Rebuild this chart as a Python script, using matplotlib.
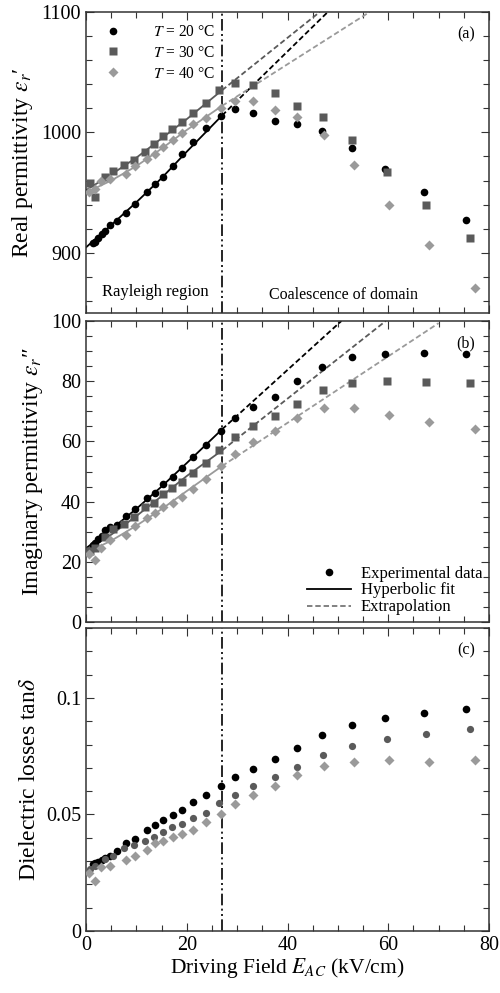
import matplotlib
matplotlib.use("Agg")
import matplotlib.pyplot as plt
from matplotlib.lines import Line2D
from matplotlib.ticker import MultipleLocator, FixedLocator

plt.rcParams['font.family'] = ['Liberation Serif', 'DejaVu Serif']
plt.rcParams['mathtext.fontset'] = 'stix'

# ---------------- data ----------------
E20 = [1.3, 1.8, 2.4, 3.1, 3.8, 4.8, 6.2, 7.9, 9.7, 12.2, 13.7, 15.3, 17.2, 19.1, 21.3, 23.8,
       26.7, 29.6, 33.2, 37.6, 41.9, 46.9, 52.9, 59.4, 67.1, 75.5]
E30 = [0.8, 1.8, 3.8, 5.4, 7.6, 9.6, 11.8, 13.5, 15.2, 17.1, 19.0, 21.3, 23.8, 26.5, 29.6,
       33.2, 37.6, 41.9, 47.1, 52.9, 59.8, 67.5, 76.2]
E40 = [0.5, 1.8, 3.0, 4.8, 7.9, 9.7, 12.2, 13.7, 15.3, 17.2, 19.1, 21.3, 23.8, 26.7, 29.6,
       33.2, 37.6, 41.9, 47.2, 53.2, 60.2, 68.1, 77.2]

real20 = [907.8, 908.6, 912.2, 915.6, 918.3, 923.3, 926.1, 933.1, 940.6, 950.8, 957.2, 963.3,
          971.7, 981.7, 991.9, 1003.9, 1013.9, 1019.4, 1016.1, 1009.4, 1006.7, 1001.1, 986.7,
          969.4, 950.6, 927.2]
real30 = [957.8, 946.1, 962.8, 967.8, 973.3, 977.2, 983.6, 990.6, 996.7, 1003.1, 1008.6,
          1016.1, 1024.4, 1035.0, 1041.1, 1039.2, 1033.1, 1022.2, 1012.8, 993.3, 967.5, 939.4,
          911.9]
real40 = [950.3, 953.1, 960.0, 961.4, 965.6, 972.5, 978.1, 982.2, 987.8, 993.3, 999.4, 1007.2,
          1012.2, 1020.6, 1026.1, 1026.1, 1018.3, 1012.8, 997.5, 973.1, 940.0, 906.4, 871.1]

imag20 = [25.5, 26.3, 27.5, 28.5, 30.5, 31.5, 32.2, 35.2, 37.4, 41.1, 43.0, 45.7, 48.3, 51.1,
          54.7, 58.8, 63.5, 67.9, 71.3, 74.6, 80.1, 84.8, 87.9, 89.0, 89.5, 89.0]
imag30 = [23.5, 24.5, 28.1, 30.8, 32.6, 35.0, 38.3, 39.6, 42.5, 44.4, 46.6, 49.4, 52.7, 57.1,
          61.4, 65.1, 68.6, 72.4, 77.1, 79.5, 80.0, 79.8, 79.3]
imag40 = [22.5, 20.6, 24.5, 27.2, 28.9, 31.9, 34.4, 36.3, 38.1, 39.6, 41.6, 44.1, 47.4, 51.8,
          55.8, 59.9, 63.6, 67.7, 71.0, 71.0, 68.9, 66.6, 64.0]

tan20 = [0.0288, 0.0292, 0.0298, 0.0305, 0.0312, 0.0323, 0.0345, 0.0376, 0.0395, 0.0434,
         0.0455, 0.0477, 0.0498, 0.0520, 0.0552, 0.0585, 0.0622, 0.0661, 0.0694, 0.0738,
         0.0787, 0.0842, 0.0885, 0.0915, 0.0937, 0.0954]
tan30 = [0.0265, 0.0280, 0.0309, 0.0323, 0.0356, 0.0371, 0.0388, 0.0405, 0.0424, 0.0445,
         0.0457, 0.0484, 0.0507, 0.0549, 0.0582, 0.0622, 0.0661, 0.0704, 0.0754, 0.0793,
         0.0823, 0.0845, 0.0866]
tan40 = [0.0250, 0.0216, 0.0273, 0.0280, 0.0305, 0.0323, 0.0348, 0.0376, 0.0388, 0.0402,
         0.0417, 0.0434, 0.0467, 0.0503, 0.0546, 0.0582, 0.0622, 0.0668, 0.0708, 0.0727,
         0.0733, 0.0727, 0.0733]

# hyperbolic fit (Rayleigh region) knots and extrapolation end points
fitE = [0, 5, 10, 15, 20, 27]
a_fit20 = [904.5, 923, 942, 962, 984, 1014]
a_fit30 = [952, 965, 979, 995, 1011, 1035]
a_fit40 = [950, 960, 972, 986.5, 1002, 1022]
a_ext20 = [48.0, 1100]
a_ext30 = [46.4, 1100]
a_ext40 = [56.3, 1100]
b_fit20 = [24.5, 30.8, 37.6, 45, 52.8, 64]
b_fit30 = [24, 29, 35.2, 41.8, 48.5, 57]
b_fit40 = [23, 27, 32, 37.5, 43.5, 51.8]
b_ext20 = [50.7, 100]
b_ext30 = [59.5, 100]
b_ext40 = [70.0, 99.3]

E_limit = 27.0
temps = ['20', '30', '40']

c20, c30, c40 = '#000000', '#5a5a5a', '#9a9a9a'
colors = [c20, c30, c40]

fig = plt.figure(figsize=(5.0, 9.93), dpi=100)
W, H = 500, 993
def axrect(top, bottom, left=86, right=489):
    return [left / W, 1 - bottom / H, (right - left) / W, (bottom - top) / H]

axA = fig.add_axes(axrect(12, 313))
axB = fig.add_axes(axrect(321, 622))
axC = fig.add_axes(axrect(628, 931))

fs_tick = 14.5
fs_ylab = 17
for ax in (axA, axB, axC):
    ax.set_xlim(0, 80)
    ax.xaxis.set_major_locator(MultipleLocator(20))
    ax.xaxis.set_minor_locator(MultipleLocator(5))
    ax.tick_params(which='both', direction='in', top=True, right=True, labelsize=fs_tick,
                   color='#333333')
    ax.tick_params(which='major', length=6, width=0.8)
    ax.tick_params(which='minor', length=4.5, width=0.8)
    for s in ax.spines.values():
        s.set_linewidth(1.1)
        s.set_color('#333333')
    ax.axvline(E_limit, color='black', lw=1.2, dashes=(7, 2, 1.2, 2, 1.2, 2), zorder=1)

axA.tick_params(labelbottom=False)
axB.tick_params(labelbottom=False)

ms = 5.5
mk = ['o', 's', 'D']
msz = [ms, ms - 0.3, ms - 0.6]

# ---- panel (a)
axA.set_ylim(850, 1100)
axA.yaxis.set_major_locator(MultipleLocator(100))
axA.yaxis.set_minor_locator(MultipleLocator(20))
for fit, ext, col in zip([a_fit20, a_fit30, a_fit40], [a_ext20, a_ext30, a_ext40], colors):
    axA.plot(fitE, fit, color=col, lw=1.3, zorder=2)
    axA.plot([fitE[-1], ext[0]], [fit[-1], ext[1]], color=col, lw=1.3, dashes=(3, 1.6), zorder=2)
legA = []
for E, v, col, m, s, t in zip([E20, E30, E40], [real20, real30, real40], colors, mk, msz, temps):
    h, = axA.plot(E, v, linestyle='none', marker=m, ms=s, color=col, mec='none', zorder=3,
                  label=r'$T$ = ' + t + ' °C')
    legA.append(h)
axA.legend(handles=legA, loc='upper left', bbox_to_anchor=(0.03, 0.975), frameon=False,
           fontsize=11.2, handlelength=1.3, handletextpad=1.9, borderaxespad=0.0,
           labelspacing=0.3, borderpad=0.3)
axA.set_ylabel("Real permittivity $\\varepsilon_r$\u2032", fontsize=fs_ylab, labelpad=4)
axA.text(0.171, 0.07, 'Rayleigh region', transform=axA.transAxes, ha='center', va='center',
         fontsize=12)
axA.text(0.639, 0.06, 'Coalescence of domain', transform=axA.transAxes, ha='center',
         va='center', fontsize=11.5)
axA.text(0.965, 0.925, '(a)', transform=axA.transAxes, ha='right', va='center', fontsize=11.5)

# ---- panel (b)
axB.set_ylim(0, 100)
axB.yaxis.set_major_locator(MultipleLocator(20))
axB.yaxis.set_minor_locator(MultipleLocator(5))
for fit, ext, col in zip([b_fit20, b_fit30, b_fit40], [b_ext20, b_ext30, b_ext40], colors):
    axB.plot(fitE, fit, color=col, lw=1.3, zorder=2)
    axB.plot([fitE[-1], ext[0]], [fit[-1], ext[1]], color=col, lw=1.3, dashes=(3, 1.6), zorder=2)
for E, v, col, m, s in zip([E20, E30, E40], [imag20, imag30, imag40], colors, mk, msz):
    axB.plot(E, v, linestyle='none', marker=m, ms=s, color=col, mec='none', zorder=3)
legB = [Line2D([], [], linestyle='none', marker='o', ms=ms, color='black', mec='none'),
        Line2D([], [], color='black', lw=1.3),
        Line2D([], [], color='#777777', lw=1.3, dashes=(3, 1.6))]
axB.legend(legB, ['Experimental data', 'Hyperbolic fit', 'Extrapolation'], loc='lower right',
           frameon=False, fontsize=12, handlelength=2.6, handletextpad=0.6, labelspacing=0.05,
           borderaxespad=0.2, borderpad=0.2)
axB.set_ylabel("Imaginary permittivity $\\varepsilon_r$\u2033", fontsize=fs_ylab, labelpad=4)
axB.text(0.965, 0.925, '(b)', transform=axB.transAxes, ha='right', va='center', fontsize=11.5)

# ---- panel (c)
axC.set_ylim(0, 0.13)
axC.yaxis.set_major_locator(FixedLocator([0, 0.05, 0.1]))
axC.yaxis.set_minor_locator(MultipleLocator(0.01))
axC.set_yticklabels(['0', '0.05', '0.1'])
mkC = ['o', 'o', 'D']
for E, v, col, m, s in zip([E20, E30, E40], [tan20, tan30, tan40], colors, mkC, msz):
    axC.plot(E, v, linestyle='none', marker=m, ms=s, color=col, mec='none', zorder=3)
axC.set_ylabel(r"Dielectric losses tan$\delta$", fontsize=fs_ylab, labelpad=4)
axC.set_xlabel(r"Driving Field $E_{AC}$ (kV/cm)", fontsize=15.5, labelpad=1)
axC.text(0.965, 0.925, '(c)', transform=axC.transAxes, ha='right', va='center', fontsize=11.5)

fig.savefig('out.png', dpi=100)
